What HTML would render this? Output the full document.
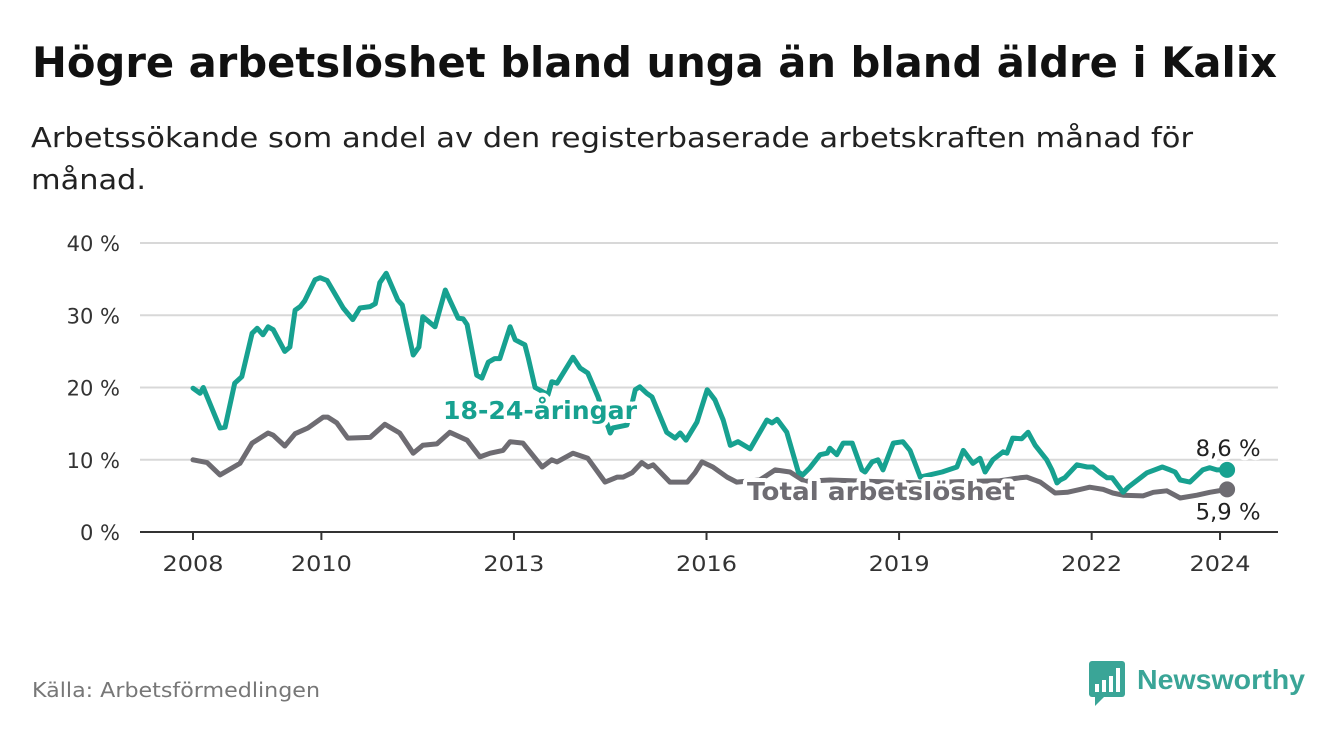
<!DOCTYPE html>
<html><head><meta charset="utf-8"><style>
body{margin:0;background:#fff;width:1340px;height:734px;overflow:hidden;font-family:"DejaVu Sans","Liberation Sans",sans-serif;}
</style></head><body>
<svg id="c" width="1340" height="734" style="position:absolute;left:0;top:0" font-family="DejaVu Sans, Liberation Sans, sans-serif">
<text x="32" y="77" font-size="42" font-weight="bold" fill="#111" textLength="1245" lengthAdjust="spacingAndGlyphs">Högre arbetslöshet bland unga än bland äldre i Kalix</text>
<text x="31" y="147" font-size="28" fill="#222" textLength="1162" lengthAdjust="spacingAndGlyphs">Arbetssökande som andel av den registerbaserade arbetskraften månad för</text>
<text x="31" y="189" font-size="28" fill="#222" textLength="115" lengthAdjust="spacingAndGlyphs">månad.</text>
<text x="32" y="697" font-size="20" fill="#777" textLength="288" lengthAdjust="spacingAndGlyphs">Källa: Arbetsförmedlingen</text>
<g>
<rect x="1089" y="661" width="36" height="36" rx="3" fill="#3aa597"/>
<path d="M1095 697 L1095 706 L1104 697 Z" fill="#3aa597"/>
<rect x="1095" y="684" width="4" height="8" fill="#fff"/><rect x="1102" y="680" width="4" height="12" fill="#fff"/><rect x="1109" y="676" width="4" height="16" fill="#fff"/><rect x="1116" y="668" width="4" height="24" fill="#fff"/>
<text x="1137" y="689" font-size="28" font-weight="bold" fill="#3aa597" textLength="168" lengthAdjust="spacingAndGlyphs" font-family="Liberation Sans, sans-serif">Newsworthy</text>
</g>
</svg>
<script>
const yTicks=[0,10,20,30,40];
const xTicks=[2008,2010,2013,2016,2019,2022,2024];
const youthDates=[2008.0,2008.11,2008.16,2008.42,2008.5,2008.65,2008.76,2008.92,2009.0,2009.09,2009.17,2009.25,2009.43,2009.51,2009.59,2009.67,2009.74,2009.9,2009.98,2010.09,2010.34,2010.49,2010.6,2010.76,2010.84,2010.91,2011.01,2011.19,2011.26,2011.43,2011.52,2011.58,2011.77,2011.93,2012.0,2012.13,2012.21,2012.27,2012.42,2012.5,2012.6,2012.7,2012.78,2012.94,2013.02,2013.17,2013.22,2013.33,2013.53,2013.59,2013.67,2013.92,2014.03,2014.15,2014.31,2014.5,2014.54,2014.76,2014.89,2014.96,2015.07,2015.15,2015.38,2015.51,2015.59,2015.68,2015.85,2016.01,2016.13,2016.26,2016.37,2016.49,2016.68,2016.94,2017.02,2017.1,2017.25,2017.43,2017.5,2017.61,2017.77,2017.88,2017.92,2018.03,2018.13,2018.27,2018.42,2018.47,2018.58,2018.67,2018.75,2018.91,2019.06,2019.17,2019.33,2019.67,2019.9,2020.0,2020.15,2020.26,2020.34,2020.46,2020.62,2020.68,2020.77,2020.91,2021.01,2021.12,2021.3,2021.38,2021.46,2021.51,2021.58,2021.77,2021.93,2022.02,2022.13,2022.24,2022.32,2022.49,2022.57,2022.86,2023.1,2023.22,2023.3,2023.38,2023.53,2023.73,2023.84,2023.95,2024.11];
const youthValues=[19.9,19.2,20,14.4,14.5,20.6,21.5,27.5,28.2,27.3,28.4,28,25,25.6,30.7,31.2,32,34.9,35.2,34.8,31,29.4,31,31.2,31.6,34.5,35.8,32.1,31.4,24.5,25.6,29.8,28.4,33.5,32.1,29.6,29.5,28.7,21.7,21.3,23.5,24,24,28.4,26.6,25.9,24.2,20,19,20.8,20.6,24.2,22.7,22,18.7,13.7,14.4,14.8,19.7,20.1,19.2,18.7,13.8,13,13.7,12.7,15.2,19.7,18.3,15.5,12,12.5,11.5,15.5,15.1,15.6,13.8,8.3,7.9,8.9,10.7,10.9,11.6,10.7,12.3,12.3,8.6,8.3,9.7,10,8.6,12.3,12.5,11.3,7.6,8.3,9,11.3,9.5,10.2,8.3,10,11.1,10.9,13,12.9,13.8,12,10,8.6,6.8,7.2,7.5,9.3,9,9,8.2,7.5,7.5,5.5,6.2,8.2,9,8.6,8.3,7.2,6.9,8.6,8.9,8.6,8.6];
const totalDates=[2008.0,2008.22,2008.42,2008.58,2008.73,2008.92,2009.17,2009.25,2009.43,2009.59,2009.79,2010.03,2010.1,2010.24,2010.41,2010.76,2010.99,2011.22,2011.43,2011.58,2011.8,2012.0,2012.27,2012.47,2012.63,2012.83,2012.94,2013.14,2013.44,2013.59,2013.67,2013.92,2014.15,2014.42,2014.61,2014.7,2014.84,2014.99,2015.09,2015.17,2015.43,2015.7,2015.82,2015.93,2016.1,2016.32,2016.47,2016.83,2017.07,2017.3,2017.53,2017.92,2018.55,2019.33,2020.1,2020.57,2020.88,2020.99,2021.2,2021.43,2021.62,2021.82,2021.97,2022.18,2022.33,2022.49,2022.8,2022.96,2023.17,2023.38,2023.64,2023.84,2024.11];
const totalValues=[10,9.6,7.9,8.7,9.5,12.3,13.7,13.4,11.9,13.6,14.4,15.9,15.9,15.1,13,13.1,14.9,13.7,10.9,12,12.2,13.8,12.7,10.4,10.9,11.3,12.5,12.3,9,10,9.7,10.9,10.2,6.9,7.6,7.6,8.2,9.6,9,9.3,6.9,6.9,8.2,9.7,9,7.6,6.9,7.2,8.6,8.3,7.0,7.2,7.0,6.8,7.0,7.1,7.5,7.6,6.9,5.4,5.5,5.9,6.2,5.9,5.4,5.1,5,5.5,5.7,4.7,5.1,5.5,5.9];
const endLabels=["8,6 %","5,9 %"];
const NS="http://www.w3.org/2000/svg";
const svg=document.getElementById('c');
const X=y=>193+(y-2008)*64.19;
const Y=v=>532-v*7.225;
function mk(t,a,p){const e=document.createElementNS(NS,t);for(const k in a)e.setAttribute(k,a[k]);(p||svg).appendChild(e);return e;}
const grid=mk('g',{});


yTicks.forEach(v=>{
  const l=mk('line',{x1:140,x2:1278,y1:Y(v),y2:Y(v),stroke:v===0?'#333':'#d8d8d8','stroke-width':2},grid);
  
  
  const t=mk('text',{x:120,y:Y(v)+8,'text-anchor':'end','font-size':21,fill:'#333'});
  t.textContent=v+' %';
  
  
});
xTicks.forEach(v=>{
  const l=mk('line',{x1:X(v),x2:X(v),y1:532,y2:540,stroke:'#333','stroke-width':2});
  
  
  const t=mk('text',{x:X(v),y:571,'text-anchor':'middle','font-size':21,fill:'#333',textLength:61,lengthAdjust:'spacingAndGlyphs'});
  t.textContent=v;
  
  
});
function line(d,v,c,name){
  const p=mk('path',{d:d.map((x,i)=>(i?'L':'M')+X(x).toFixed(1)+' '+Y(v[i]).toFixed(1)).join(' '),fill:'none',stroke:c,'stroke-width':5,'stroke-linejoin':'round','stroke-linecap':'round'});
  
  
  const n=d.length-1;
  const dot=mk('circle',{cx:X(d[n]),cy:Y(v[n]),r:8,fill:c});
  
  
}
line(totalDates,totalValues,'#6e6c72','total-line');
line(youthDates,youthValues,'#17a190','youth-line');
function lab(x,y,txt,c,name,size,w,anchor,len){
  const a={x:x,y:y,'font-size':size,'font-weight':w,fill:c,stroke:'#fff','stroke-width':8,'paint-order':'stroke','stroke-linejoin':'round','text-anchor':anchor||'start'};
  if(len){a.textLength=len;a.lengthAdjust='spacingAndGlyphs';}
  const t=mk('text',a);
  t.textContent=txt;
  
  
}
lab(443,419,'18-24-åringar','#17a190','youth-series-label',25,'bold','start',194);
lab(747,500,'Total arbetslöshet','#6e6c72','total-series-label',25,'bold','start',268);
const n1=youthDates.length-1,n2=totalDates.length-1;
lab(X(youthDates[n1])+1,Y(youthValues[n1])-14,endLabels[0],'#222','youth-end-value',22,'normal','middle',65);
lab(X(totalDates[n2])+1,Y(totalValues[n2])+30,endLabels[1],'#222','total-end-value',22,'normal','middle',65);
</script>
</body></html>
